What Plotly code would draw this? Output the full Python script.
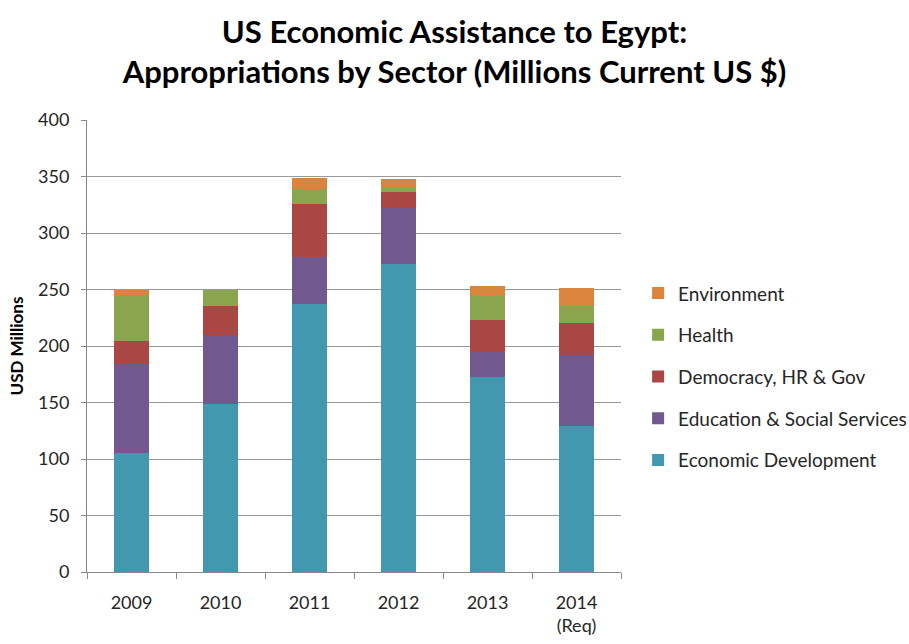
import plotly.graph_objects as go

years = ["2009", "2010", "2011", "2012", "2013", "2014<br>(Req)"]
economic_development = [105, 149, 237, 273, 172.5, 129]
education_social = [79, 61, 42, 49, 22.5, 63]
democracy_hr_gov = [20, 25, 47, 14, 28, 28]
health = [41, 15, 13, 4, 22, 15.5]
environment = [5, 0, 10, 8, 8, 16]

series = [
    ("Economic Development", economic_development, "#4198AF"),
    ("Education & Social Services", education_social, "#71588F"),
    ("Democracy, HR & Gov", democracy_hr_gov, "#AA4644"),
    ("Health", health, "#89A54E"),
    ("Environment", environment, "#DB843D"),
]

FONT = "Lato, Open Sans, sans-serif"

fig = go.Figure()
n = len(series)
for i, (name, vals, color) in enumerate(series):
    fig.add_trace(go.Bar(
        x=years, y=vals, name=name, marker_color=color,
        marker_line_width=0, legendgroup=f"g{i}", legendrank=n - i,
    ))

fig.update_layout(
    barmode="stack",
    bargap=0.61,
    width=909, height=644,
    margin=dict(l=87, r=288, t=120, b=72, autoexpand=False),
    paper_bgcolor="white", plot_bgcolor="white",
    font=dict(family=FONT, color="#262626", size=18),
    title=dict(
        text="<b>US Economic Assistance to Egypt:<br>Appropriations by Sector (Millions Current US $)</b>",
        x=0.5, xref="container", xanchor="center",
        y=0.933, yref="container", yanchor="top",
        font=dict(size=31, color="#000000", family=FONT),
    ),
    legend=dict(
        traceorder="grouped",
        tracegroupgap=14,
        xref="container", x=0.702, xanchor="left",
        yref="container", y=0.415, yanchor="middle",
        font=dict(size=19, color="#262626", family=FONT),
        itemwidth=30,
    ),
    showlegend=True,
)

fig.update_xaxes(
    type="category",
    tickson="boundaries",
    ticks="outside", ticklen=6, tickcolor="#888888",
    showline=True, linecolor="#888888", linewidth=1,
    showgrid=False,
    ticklabelstandoff=14,
    tickfont=dict(size=18, color="#262626"),
)
fig.update_yaxes(
    range=[0, 400], dtick=50,
    ticks="outside", ticklen=5, tickcolor="#888888",
    showline=True, linecolor="#888888", linewidth=1,
    showgrid=True, gridcolor="#9a9a9a", gridwidth=1,
    zeroline=False,
    ticklabelstandoff=8,
    tickfont=dict(size=18, color="#262626"),
    title=dict(text="<b>USD Millions</b>", font=dict(size=17, color="#000000"), standoff=10),
)

fig.write_html("out.html")
